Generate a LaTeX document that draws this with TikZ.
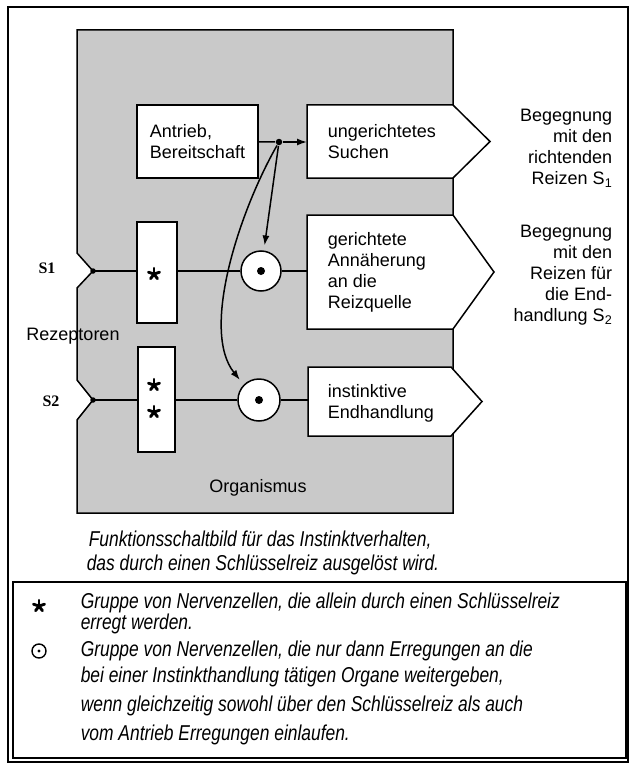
\documentclass[tikz,border=0pt]{standalone}
\usepackage{fontspec}
\setmainfont{Liberation Sans}
\newfontfamily\capfont{Liberation Sans}[FakeStretch=0.81]
\newfontfamily\labfont{Liberation Serif}
\usetikzlibrary{arrows.meta}

\begin{document}
\begin{tikzpicture}[x=1pt,y=-1pt,
  line width=1.5pt,
  txt/.style={font=\fontsize{18}{21}\selectfont, inner sep=0pt},
  captxt/.style={font=\capfont\itshape\fontsize{21.5}{18}\selectfont, inner sep=0pt, anchor=base west},
  sig/.style={font=\labfont\bfseries\fontsize{16}{16}\selectfont, inner sep=0pt},
  whitebox/.style={draw, fill=white, line width=1.5pt, inner sep=0pt},
  body/.style={inner sep=0pt, outer sep=0pt},
  arr/.style={-{Latex[length=10pt,width=7pt]}, line width=1.5pt},
  gate/.style={circle, draw, fill=white, line width=1.5pt, inner sep=0pt},
  tipdot/.style={circle, fill=black, inner sep=0pt, minimum size=5.5pt},
  asterisk/.pic={
    \foreach \a in {-90,-18,54,126,198}
      \draw[line width=2.9pt, line cap=round] (0,0) -- (\a:5.8);
  },
]
\useasboundingbox (0,0) rectangle (630,765);

% organism outline with the two receptor notches
\path[draw, fill=black!21, line width=1.5pt]
  (77,30) -- (453,30) -- (453,513) -- (77,513) -- (77,420) -- (93,400) -- (77,380)
  -- (77,288) -- (93,271) -- (77,253) -- cycle;
\coordinate (t1) at (93,271);
\coordinate (t2) at (93,400);

% drive box
\node[whitebox, txt, minimum width=121pt, minimum height=73pt, align=left] (ant) at (197.5,141.5) {Antrieb,\\Bereitschaft};

% output arrows (pentagons)
\node[body, minimum width=146pt, minimum height=73pt] (ung) at (380,141.5) {};
\filldraw[fill=white] (ung.north west) -- (ung.north east) -- ([xshift=37pt]ung.east) -- (ung.south east) -- (ung.south west) -- cycle;
\node[txt, align=left, anchor=west] (ungt) at (327,142) {ungerichtetes\\Suchen};

\node[body, minimum width=146pt, minimum height=114pt] (ger) at (380,272) {};
\filldraw[fill=white] (ger.north west) -- (ger.north east) -- ([xshift=41pt]ger.east) -- (ger.south east) -- (ger.south west) -- cycle;
\node[txt, align=left, anchor=west] (gert) at (327,272) {gerichtete\\Annäherung\\an die\\Reizquelle};

\node[body, minimum width=143pt, minimum height=69pt] (inst) at (379.5,401.5) {};
\filldraw[fill=white] (inst.north west) -- (inst.north east) -- ([xshift=31pt]inst.east) -- (inst.south east) -- (inst.south west) -- cycle;
\node[txt, align=left, anchor=west] (instt) at (327,403) {instinktive\\Endhandlung};

% key-stimulus cell groups
\node[whitebox, minimum width=40pt, minimum height=101pt] (sb1) at (157,272.5) {};
\node[whitebox, minimum width=37pt, minimum height=105pt] (sb2) at (156.5,399.5) {};
\pic at (154,274) {asterisk};
\pic at (154,385) {asterisk};
\pic at (154,412) {asterisk};

% gate cells
\node[gate, minimum size=40pt] (c1) at (261,271) {};
\node[tipdot, minimum size=8pt] (c1d) at (c1) {};
\node[gate, minimum size=42pt] (c2) at (259,400) {};
\node[tipdot, minimum size=8pt] (c2d) at (c2) {};

% signal lines
\draw (t1) -- (sb1.west |- t1);
\draw (sb1.east |- t1) -- (c1);
\draw (c1) -- (ger.west |- c1);
\draw (t2) -- (sb2.west |- t2);
\draw (sb2.east |- t2) -- (c2);
\draw (c2) -- (inst.west |- c2);
\node[tipdot] (d1) at (t1) {};
\node[tipdot] (d2) at (t2) {};

% drive distribution
\node[tipdot, minimum size=6.5pt] (j) at (279,142) {};
\draw (ant) -- (j);
\draw[arr] (j) -- (ung.west |- j);
\draw[arr, shorten >=5pt] (j) -- (c1);
\draw[arr, shorten >=6pt] (j) .. controls (240,210) and (200,330) .. (c2.135);

% labels
\node[sig] (s1l) at (47,268) {S1};
\node[sig] (s2l) at (51,401) {S2};
\node[txt] (rez) at (73,336) {Rezeptoren};
\node[txt] (org) at (258,488) {Organismus};
\node[txt, align=right, anchor=east] (beg1) at (613,148) {Begegnung\\mit den\\richtenden\\Reizen S\textsubscript{1}};
\node[txt, align=right, anchor=east] (beg2) at (613,275) {Begegnung\\mit den\\Reizen für\\die End-\\handlung S\textsubscript{2}};

% caption
\node[captxt] (cap1) at (88,546) {Funktionsschaltbild für das Instinktverhalten,};
\node[captxt] (cap2) at (86,570) {das durch einen Schlüsselreiz ausgelöst wird.};

% legend
\node[draw, line width=1.5pt, minimum width=613pt, minimum height=176pt, inner sep=0pt] (legend) at (319.5,670) {};
\pic at (39,606) {asterisk};
\node[gate, minimum size=14pt, line width=1.4pt] (lod) at (39,651) {};
\node[tipdot, minimum size=3.2pt] (lodd) at (lod) {};
\node[captxt, anchor=west, align=left] (lg1) at (80,613) {Gruppe von Nervenzellen, die allein durch einen Schlüsselreiz\\erregt werden.};
\node[captxt] (lg3) at (80,656) {Gruppe von Nervenzellen, die nur dann Erregungen an die};
\node[captxt] (lg4) at (80,682) {bei einer Instinkthandlung tätigen Organe weitergeben,};
\node[captxt] (lg5) at (80,711) {wenn gleichzeitig sowohl über den Schlüsselreiz als auch};
\node[captxt] (lg6) at (80,740) {vom Antrieb Erregungen einlaufen.};

% outer frame
\draw[line width=1.7pt] (8,7) rectangle (628,762);
\end{tikzpicture}
\end{document}
